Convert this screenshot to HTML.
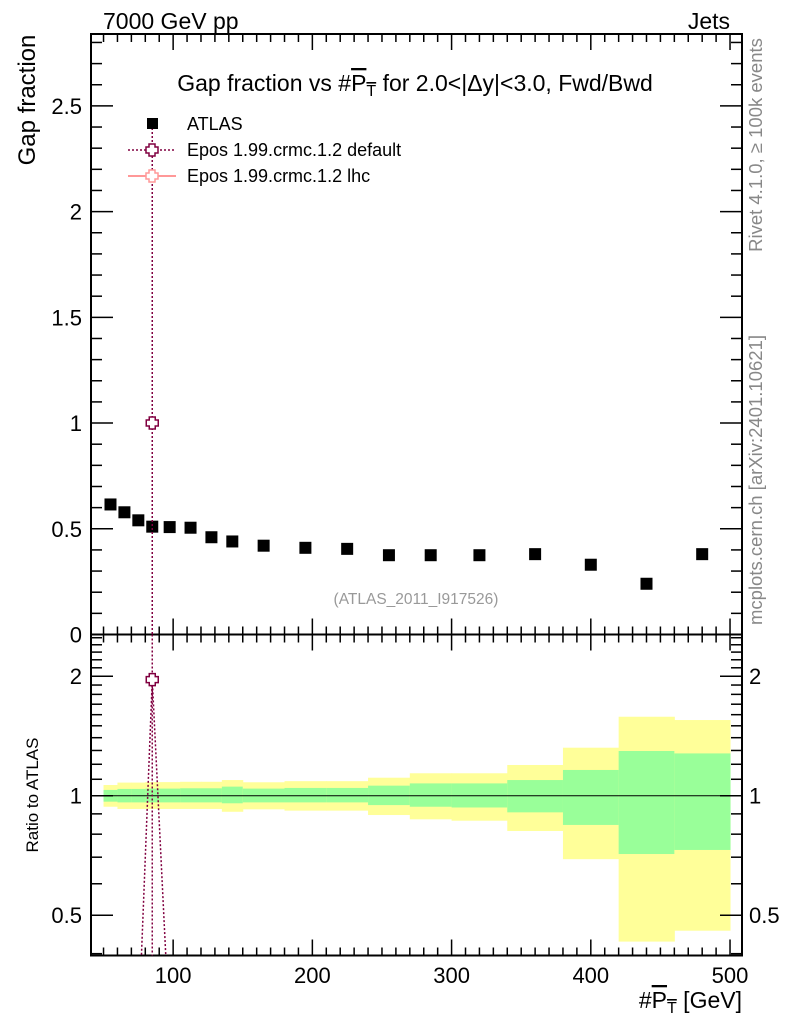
<!DOCTYPE html>
<html><head><meta charset="utf-8"><style>
body{margin:0;background:#fff;}
svg{display:block;font-family:"Liberation Sans",sans-serif;}
</style></head><body>
<svg id="c" width="786" height="1024" viewBox="0 0 786 1024">
<g id="bands"></g>
<g id="axes"></g>
<g id="marks"></g>
<g id="texts">
<text x="103" y="29" font-size="23">7000 GeV pp</text>
<text x="730" y="29" font-size="23" text-anchor="end">Jets</text>
<text x="415" y="91" font-size="23" text-anchor="middle">Gap fraction vs #<tspan text-decoration="overline">P<tspan font-size="16" dy="5">T</tspan></tspan><tspan dy="-5"> for 2.0&lt;|Δy|&lt;3.0, Fwd/Bwd</tspan></text>
<text transform="translate(35,100) rotate(-90)" font-size="24" text-anchor="middle">Gap fraction</text>
<text transform="translate(38,795) rotate(-90)" font-size="17" text-anchor="middle">Ratio to ATLAS</text>
<text transform="translate(762,145) rotate(-90)" font-size="18.5" fill="#888" text-anchor="middle">Rivet 4.1.0, ≥ 100k events</text>
<text transform="translate(762,480) rotate(-90)" font-size="18.5" fill="#888" text-anchor="middle">mcplots.cern.ch [arXiv:2401.10621]</text>
<text x="416" y="604" font-size="15.5" fill="#999" text-anchor="middle">(ATLAS_2011_I917526)</text>
<text x="742" y="1008" font-size="23" text-anchor="end">#<tspan text-decoration="overline">P<tspan font-size="16" dy="5">T</tspan></tspan><tspan dy="-5"> [GeV]</tspan></text>
<g>
<rect x="147" y="118" width="11" height="11" fill="#000"/>
<text x="187" y="130" font-size="18">ATLAS</text>
<line x1="128" y1="150" x2="176" y2="150" stroke="#800040" stroke-width="1.5" stroke-dasharray="2,2"/>
<text x="187" y="156" font-size="18">Epos 1.99.crmc.1.2 default</text>
<line x1="128" y1="176" x2="176" y2="176" stroke="#f77" stroke-width="1.5"/>
<path d="M149,171h6v3h3v6h-3v3h-6v-3h-3v-6h3z" transform="translate(0,-1) scale(1)" fill="#fff" stroke="#f99" stroke-width="1.5"/>
<text x="187" y="182" font-size="18">Epos 1.99.crmc.1.2 lhc</text>
</g>
</g>
</svg>
<script>
const binEdges=[50,60,70,80,90,105,120,135,150,180,210,240,270,300,340,380,420,460,500];
const atlasX=[55,65,75,85,97.5,112.5,127.5,142.5,165,195,225,255,285,320,360,400,440,480];
const atlasY=[0.615,0.578,0.54,0.51,0.508,0.505,0.46,0.44,0.42,0.41,0.405,0.375,0.375,0.375,0.38,0.33,0.24,0.38];
const yellowUp=[1.064,1.079,1.079,1.082,1.082,1.084,1.084,1.095,1.081,1.088,1.088,1.110,1.139,1.139,1.195,1.321,1.581,1.551];
const greenUp=[1.034,1.040,1.040,1.042,1.042,1.044,1.044,1.054,1.042,1.046,1.046,1.060,1.074,1.074,1.095,1.161,1.296,1.278];
const greenDn=[0.966,0.962,0.962,0.962,0.962,0.962,0.962,0.957,0.962,0.962,0.962,0.947,0.938,0.934,0.908,0.844,0.713,0.730];
const yellowDn=[0.938,0.926,0.926,0.926,0.926,0.926,0.926,0.911,0.924,0.917,0.917,0.894,0.872,0.865,0.815,0.692,0.429,0.457];
const eposX=[85];
const eposY=[1.0];
const eposRatioX=[75,85,97.5];
const eposRatio=[0.25,1.96,0.25];
const mainTicks=[0,0.5,1,1.5,2,2.5];
const ratioTicks=[0.5,1,2];
const xTicks=[100,200,300,400,500];

const NS="http://www.w3.org/2000/svg";
const L=91,R=742,T=34,MB=634.5,RB=955.5;
const xmin=41,xmax=508.6,ymax=2.84;
const X=v=>L+(v-xmin)/(xmax-xmin)*(R-L);
const Y=v=>MB-v/ymax*(MB-T);
const RY=v=>795.7-Math.log2(v)*119.5;
function mk(tag,at,parent){const e=document.createElementNS(NS,tag);for(const k in at)e.setAttribute(k,at[k]);document.getElementById(parent).appendChild(e);return e;}

for(let i=0;i<atlasX.length;i++){
  const x1=X(binEdges[i]),x2=X(binEdges[i+1]);
  let e=mk('rect',{x:x1,y:RY(yellowUp[i]),width:x2-x1+0.5,height:RY(yellowDn[i])-RY(yellowUp[i]),fill:'#ffff99'},'bands');
  
  
  e=mk('rect',{x:x1,y:RY(greenUp[i]),width:x2-x1+0.5,height:RY(greenDn[i])-RY(greenUp[i]),fill:'#99ff99'},'bands');
  
  
}
let ul=mk('line',{x1:X(50),x2:X(500),y1:RY(1),y2:RY(1),stroke:'#000','stroke-width':1},'bands');



let f=mk('rect',{x:L,y:T,width:R-L,height:MB-T,fill:'none',stroke:'#000','stroke-width':2},'axes');


f=mk('rect',{x:L,y:MB,width:R-L,height:RB-MB,fill:'none',stroke:'#000','stroke-width':2},'axes');



for(let v=50;v<=500;v+=10){
  const maj=v%100===0,len=maj?16:8,x=X(v);
  [[MB,-1],[T,1],[RB,-1],[MB,1]].forEach(([y0,d])=>{
    const t=mk('line',{x1:x,x2:x,y1:y0,y2:y0+d*len,stroke:'#000','stroke-width':1.5},'axes');
    
    
  });
}
xTicks.forEach(v=>{
  const t=mk('text',{x:X(v),y:983,'font-size':22,'text-anchor':'middle'},'axes');t.textContent=v;
  
  
});
for(let k=0;k<=28;k++){
  const v=k/10,maj=k%5===0,len=maj?22:11,y=Y(v);
  [[L,1],[R,-1]].forEach(([x0,d])=>{
    const t=mk('line',{x1:x0,x2:x0+d*len,y1:y,y2:y,stroke:'#000','stroke-width':1.5},'axes');
    
    
  });
}
mainTicks.forEach(v=>{
  const t=mk('text',{x:82,y:Y(v)+8,'font-size':22,'text-anchor':'end'},'axes');t.textContent=v;
  
  
});
const rmin=[0.4,0.5,0.6,0.7,0.8,0.9,1,1.1,1.2,1.3,1.4,1.5,1.6,1.7,1.8,1.9,2,2.1,2.2,2.3,2.4,2.5];
rmin.forEach(v=>{
  const maj=ratioTicks.includes(v),len=maj?22:11,y=RY(v);
  [[L,1],[R,-1]].forEach(([x0,d])=>{
    const t=mk('line',{x1:x0,x2:x0+d*len,y1:y,y2:y,stroke:'#000','stroke-width':1.5},'axes');
    
    
  });
});
ratioTicks.forEach(v=>{
  let t=mk('text',{x:82,y:RY(v)+8,'font-size':22,'text-anchor':'end'},'axes');t.textContent=v;
  
  
  t=mk('text',{x:749,y:RY(v)+8,'font-size':22},'axes');t.textContent=v;
  
  
});

atlasX.forEach((x,i)=>{
  const p=mk('rect',{x:X(x)-6,y:Y(atlasY[i])-6,width:12,height:12,fill:'#000'},'marks');
  
  
});
const cross=(cx,cy)=>`M${cx-3},${cy-6}h6v3h3v6h-3v3h-6v-3h-3v-6h3z`;
eposX.forEach((x,i)=>{
  let e=mk('line',{x1:X(x),x2:X(x),y1:128,y2:MB,stroke:'#800040','stroke-width':1.5,'stroke-dasharray':'2,2'},'marks');
  
  
  e=mk('path',{d:cross(X(x),Y(eposY[i])),fill:'#fff',stroke:'#800040','stroke-width':1.5},'marks');
  
  
});
mk('clipPath',{id:'rc'},'marks');
mk('rect',{x:L,y:MB,width:R-L,height:RB-MB},'marks');
const cp=document.getElementById('rc');cp.appendChild(document.querySelector('#marks rect:last-child'));
let pts=eposRatioX.map((x,i)=>X(x)+','+RY(eposRatio[i])).join(' ');
let pl=mk('polyline',{points:pts,fill:'none',stroke:'#800040','stroke-width':1.5,'stroke-dasharray':'2,2','clip-path':'url(#rc)'},'marks');


const ci=eposRatio.indexOf(Math.max(...eposRatio));
let eb=mk('line',{x1:X(eposRatioX[ci]),x2:X(eposRatioX[ci]),y1:MB,y2:RB,stroke:'#800040','stroke-width':1.5,'stroke-dasharray':'2,2'},'marks');


let rp=mk('path',{d:cross(X(eposRatioX[ci]),RY(eposRatio[ci])),fill:'#fff',stroke:'#800040','stroke-width':1.5},'marks');


let lm=mk('path',{d:cross(152,150),fill:'#fff',stroke:'#800040','stroke-width':1.5},'texts');


</script>
</body></html>
